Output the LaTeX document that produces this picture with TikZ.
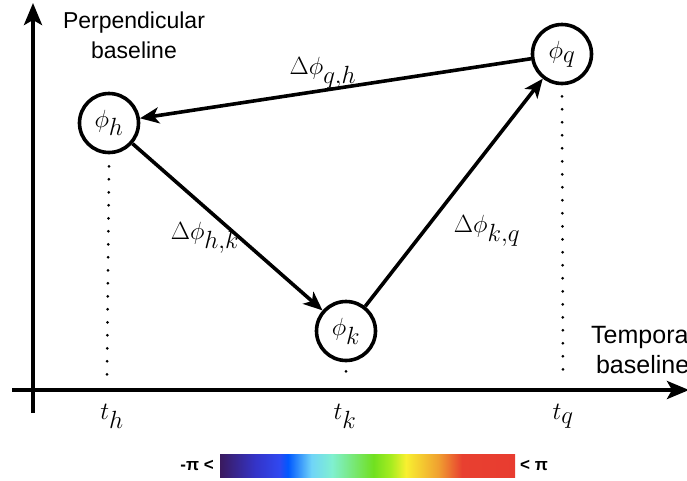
\documentclass[tikz,border=0pt]{standalone}
\usepackage{fontspec}
\setmainfont{Liberation Sans}
\usetikzlibrary{arrows.meta}
\definecolor{cb0}{HTML}{3A1A5E}
\definecolor{cb1}{HTML}{3434C8}
\definecolor{cb2}{HTML}{3048F0}
\definecolor{cb3}{HTML}{0058FF}
\definecolor{cb4}{HTML}{70D4F8}
\definecolor{cb5}{HTML}{80F0D0}
\definecolor{cb6}{HTML}{70E020}
\definecolor{cb7}{HTML}{A8EC20}
\definecolor{cb8}{HTML}{F8F030}
\definecolor{cb9}{HTML}{F0A030}
\definecolor{cb10}{HTML}{E84030}
\definecolor{cb11}{HTML}{E83C30}
\pgfdeclarehorizontalshading{phasebar}{100bp}{color(0bp)=(cb0); color(25bp)=(cb0); color(31bp)=(cb1); color(35bp)=(cb2); color(36.5bp)=(cb3); color(40.5bp)=(cb4); color(44bp)=(cb5); color(51bp)=(cb6); color(54bp)=(cb7); color(56.5bp)=(cb8); color(62bp)=(cb9); color(66bp)=(cb10); color(75bp)=(cb11); color(100bp)=(cb11)}
\tikzset{
  phase/.style={circle, draw, line width=3.6pt, minimum size=59pt, inner sep=0pt, font=\fontsize{34}{36}\selectfont},
  conn/.style={line width=3.6pt, -{Stealth[length=19pt,width=16pt,inset=5pt]}},
  axis/.style={line width=3.8pt, -{Stealth[length=22pt,width=18pt,inset=5pt]}},
  guide/.style={line width=3pt, line cap=round, dash pattern=on 0pt off 13pt},
  mlabel/.style={font=\fontsize{34}{36}\selectfont, inner sep=0pt},
  axtext/.style={font=\fontsize{23}{30}\selectfont, align=center, inner sep=0pt},
}
\begin{document}
\begin{tikzpicture}[x=1pt,y=-1pt]
\useasboundingbox (0,0) rectangle (687,480);
% axes
\coordinate (yb) at (33,413);
\coordinate (yt) at (33,3);
\coordinate (xl) at (12,390);
\coordinate (xr) at (689,390);
\draw[axis] (yb) -- (yt);
\draw[axis] (xl) -- (xr);
\node[axtext] (perp) at (134,35) {Perpendicular\\baseline};
\node[axtext, anchor=west, font=\fontsize{25}{30}\selectfont] (temp) at (591,350) {Temporal\\baseline};
% phase nodes
\node[phase] (h) at (109,123) {$\phi_h$};
\node[phase] (q) at (562,54) {$\phi_q$};
\node[phase] (k) at (346,331) {$\phi_k$};
% time labels
\node[mlabel] (th) at (112,416) {$t_h$};
\node[mlabel] (tk) at (345,416) {$t_k$};
\node[mlabel] (tq) at (563,416) {$t_q$};
% guides
\coordinate (hb) at (107,378);
\coordinate (kb) at (343,380);
\coordinate (qb) at (563,378);
\draw[guide] ([yshift=-12pt]h.south) -- (hb);
\draw[guide] ([yshift=-9pt]k.south) -- (kb);
\draw[guide] ([yshift=-11pt]q.south) -- (qb);
% connectors
\draw[conn] (q) -- (h);
\draw[conn] (h) -- (k);
\draw[conn] (k) -- (q);
\node[mlabel] (lqh) at (323,73) {$\Delta\phi_{q,h}$};
\node[mlabel] (lhk) at (205,238) {$\Delta\phi_{h,k}$};
\node[mlabel] (lkq) at (487,231) {$\Delta\phi_{k,q}$};
% colour bar
\shade[shading=phasebar] (220,454) rectangle (515,477);
\node[font=\fontsize{17}{19}\selectfont\bfseries, anchor=east, inner sep=0pt] (lo) at (214,465) {-π <};
\node[font=\fontsize{17}{19}\selectfont\bfseries, anchor=west, inner sep=0pt] (hi) at (520,465) {< π};
\end{tikzpicture}
\end{document}
